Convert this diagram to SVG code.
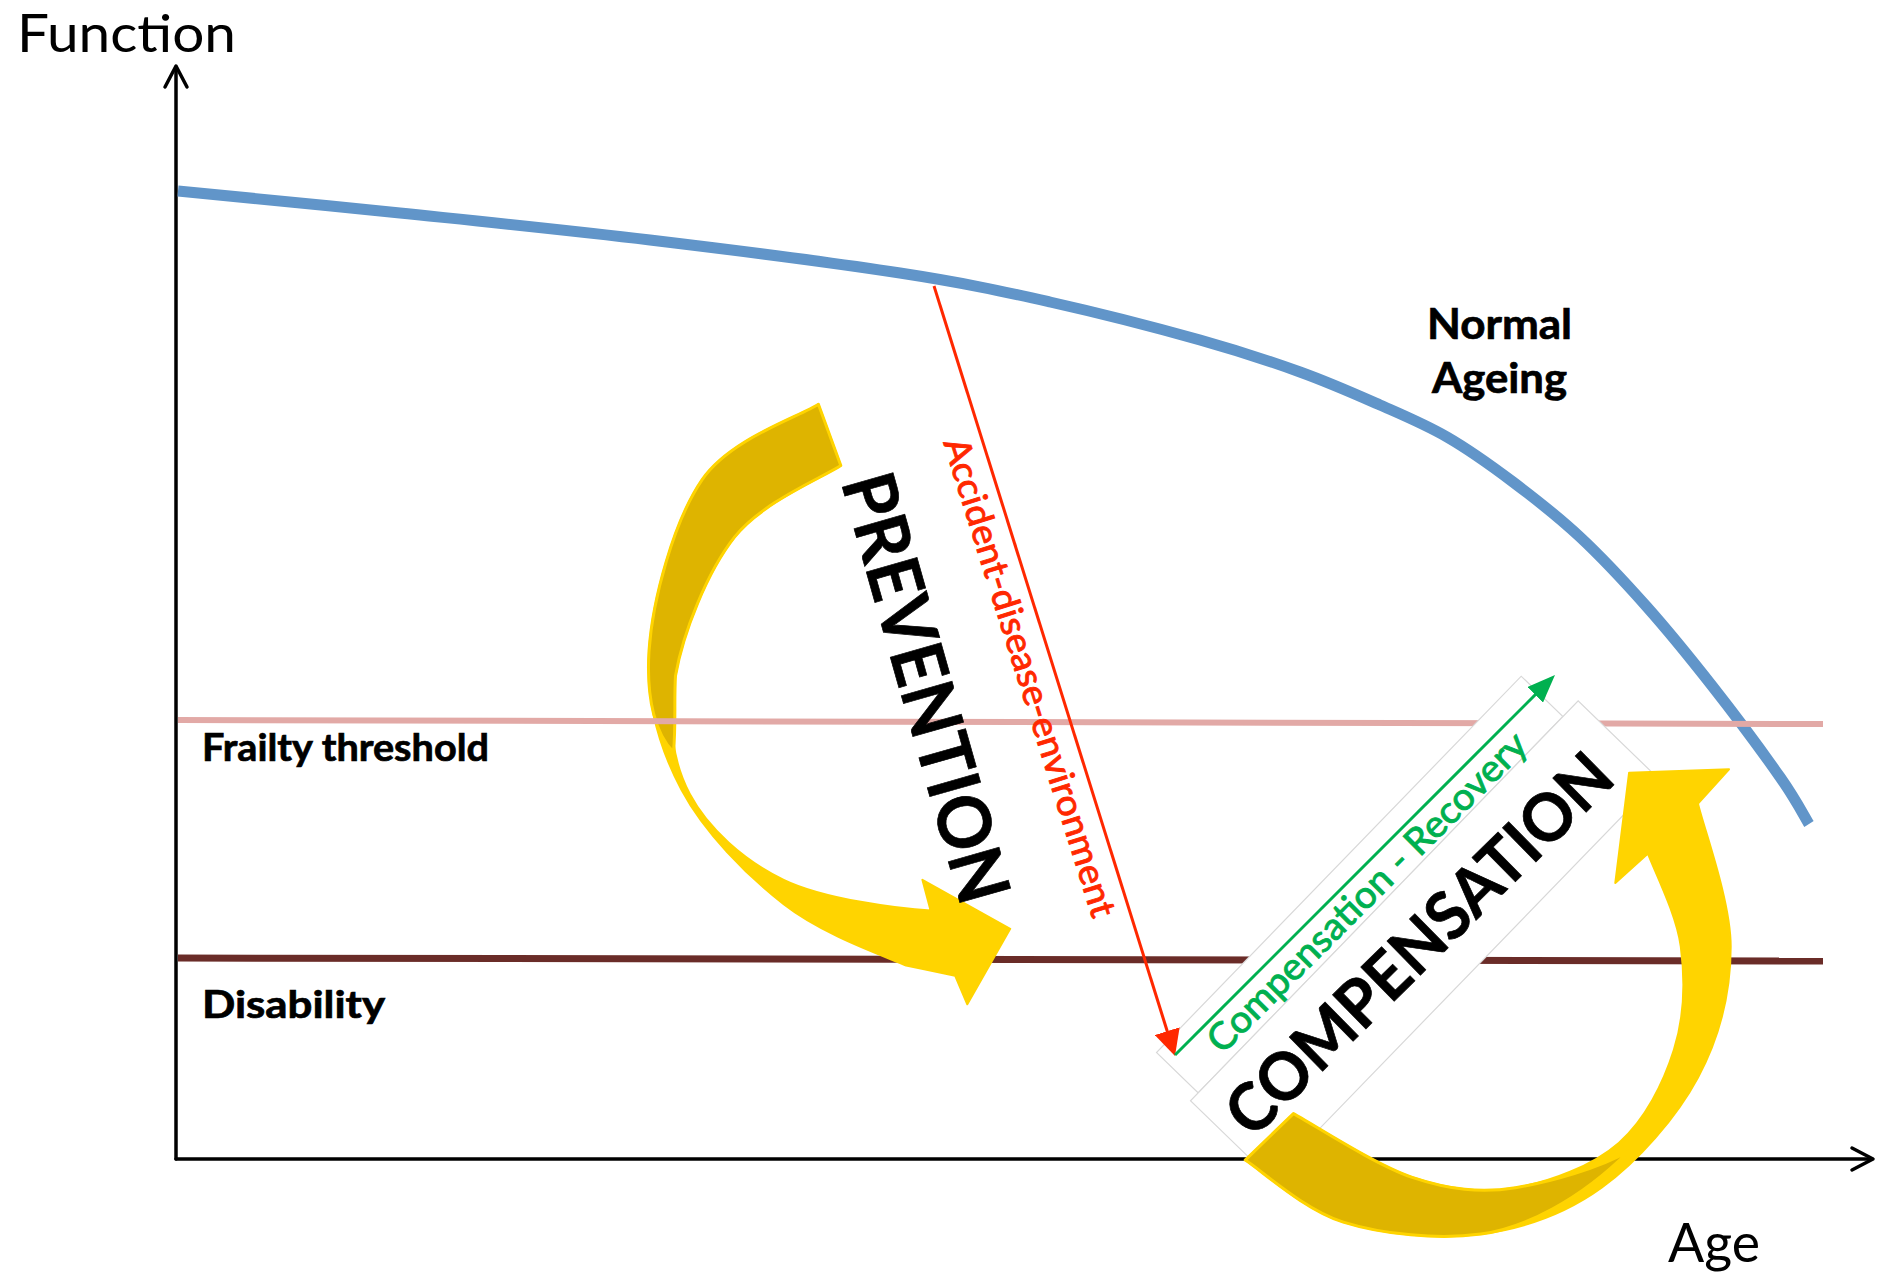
<svg xmlns="http://www.w3.org/2000/svg" width="1883" height="1278" viewBox="0 0 1883 1278">
  <style>
    .txt { font-family: Lato, "Open Sans", "Liberation Sans", sans-serif; }
    .bold { font-weight: 700; }
    .heavy { stroke: #000; stroke-width: 0.7; }
    .axis { stroke: #000; stroke-width: 3.5; fill: none; stroke-linecap: round; stroke-linejoin: round; }
    .panel { fill: #fff; stroke: #d8d8d8; stroke-width: 1.2; }
    .arrow-front { fill: #FFD400; stroke: #FFD400; stroke-width: 2; stroke-linejoin: round; }
    .arrow-back { fill: #DEB400; stroke: #FFD400; stroke-width: 3; stroke-linejoin: round; }
  </style>
  <defs>
    <marker id="head-red" markerUnits="userSpaceOnUse" viewBox="0 0 26 26" markerWidth="26" markerHeight="26" refX="14" refY="13" orient="auto">
      <path d="M0,0 L26,13 L0,26 Z" fill="#FF2800"/>
    </marker>
    <marker id="head-green" markerUnits="userSpaceOnUse" viewBox="0 0 28 22" markerWidth="28" markerHeight="22" refX="14" refY="11" orient="auto">
      <path d="M0,0 L28,11 L0,22 Z" fill="#00B050"/>
    </marker>
  </defs>

  <rect width="1883" height="1278" fill="#fff"/>

  <!-- disability level -->
  <g id="disability-line">
    <line x1="178" y1="958" x2="1823" y2="961" stroke="#6A2C28" stroke-width="7"/>
  </g>

  <!-- axes -->
  <g id="axes">
    <line class="axis" x1="176" y1="1159" x2="176" y2="67"/>
    <polyline class="axis" points="165,87 176,66 187,87"/>
    <line class="axis" x1="176" y1="1159" x2="1872" y2="1159"/>
    <polyline class="axis" points="1852,1148 1873,1159 1852,1170"/>
  </g>

  <!-- normal ageing curve -->
  <g id="normal-ageing-curve">
    <path d="M178,191 C215,194.7 321.3,204.8 400,213 C478.7,221.2 566.7,230 650,240 C733.3,250 833.3,262.7 900,273 C966.7,283.3 1000,290.8 1050,302 C1100,313.2 1158.3,328.3 1200,340 C1241.7,351.7 1270,361.2 1300,372 C1330,382.8 1355.5,394.2 1380,405 C1404.5,415.8 1424.8,424.2 1447,437 C1469.2,449.8 1490.8,465.3 1513,482 C1535.2,498.7 1557.7,516.2 1580,537 C1602.3,557.8 1624.8,582 1647,607 C1669.2,632 1690.8,658.7 1713,687 C1735.2,715.3 1764,754.2 1780,777 C1796,799.8 1804.2,816.2 1809,824" fill="none" stroke="#6195C9" stroke-width="11"/>
  </g>

  <!-- prevention loop arrow -->
  <g id="prevention-arrow">
    <path class="arrow-front" d="M818.4,404.3 C799.0,416.9 730.2,438.6 702,479.8 C673.8,521.0 652.4,599.5 649,651.2 C645.6,702.9 659.1,747.8 681.6,790 C704.1,832.2 746.3,875.0 783.7,904.3 C821.1,933.6 877.5,953.6 906.1,965.5 C922.4,969 946.9,974 955.1,975.7 L967.3,1004.3 L1010.2,928.8 L922.4,879.8 L930.6,910.4 C900,909 823.8,899.2 783.7,879.8 C743.6,860.4 707.8,828.0 689.8,794 C671.8,760.0 668.0,718.6 675.5,675.7 C683.0,632.8 707.1,571.9 734.7,536.9 C762.3,501.9 823.1,477.4 840.8,465.5 Z"/>
    <path class="arrow-back" d="M818.4,404.3 C799.0,416.9 730.2,438.6 702,479.8 C673.8,521.0 652.4,599.5 649,651.2 C646,700 656,735 673.5,752 C676,725 674,700 675.5,675.7 C683.0,632.8 707.1,571.9 734.7,536.9 C762.3,501.9 823.1,477.4 840.8,465.5 Z"/>
  </g>

  <!-- frailty threshold -->
  <g id="frailty-line">
    <line x1="178" y1="720" x2="1823" y2="724" stroke="#E2A9A6" stroke-width="6"/>
  </g>

  <!-- tilted panels behind the compensation labels -->
  <g id="compensation-panels" transform="rotate(-45.9)">
    <rect class="panel" x="49" y="1563" width="524" height="58"/>
    <rect class="panel" x="38" y="1621" width="557" height="112"/>
  </g>

  <!-- compensation loop arrow -->
  <g id="compensation-arrow">
    <path class="arrow-front" d="M1245.2,1160.1 C1261.6,1170.4 1304.0,1209.8 1343.3,1222.1 C1382.6,1234.4 1437.9,1239.8 1481,1234.1 C1524.1,1228.4 1565.4,1213.8 1601.6,1187.7 C1637.8,1161.6 1676.5,1117.7 1698,1077.5 C1719.5,1037.3 1730.7,992.2 1730.7,946.6 C1730.7,900.9 1703.5,827.5 1698,803.7 L1729,769.3 L1629.1,772.7 L1615.3,882.9 L1648,853.6 C1653.5,869.1 1676.5,913.9 1680.8,946.6 C1685.1,979.3 1684.2,1017.2 1673.9,1049.9 C1663.6,1082.6 1645.2,1119.9 1618.8,1142.9 C1592.4,1165.9 1549.9,1182.0 1515.5,1187.7 C1481.1,1193.4 1449.2,1189.7 1412.2,1177.3 C1375.2,1164.9 1313.2,1124.2 1293.4,1113.6 Z"/>
    <path class="arrow-back" d="M1245.2,1160.1 C1261.6,1170.4 1304.0,1209.8 1343.3,1222.1 C1382.6,1234.4 1437.9,1239.8 1481,1234.1 C1524.1,1228.4 1580,1200 1629,1151 C1600,1168 1549.9,1182.0 1515.5,1187.7 C1481.1,1193.4 1449.2,1189.7 1412.2,1177.3 C1375.2,1164.9 1313.2,1124.2 1293.4,1113.6 Z"/>
  </g>

  <!-- connectors -->
  <g id="connectors">
    <line id="accident-drop" x1="934" y1="286" x2="1171.4" y2="1044.5" stroke="#FF2800" stroke-width="3" marker-end="url(#head-red)"/>
    <line id="recovery-rise" x1="1175" y1="1055" x2="1545.1" y2="684.9" stroke="#00B050" stroke-width="3" marker-end="url(#head-green)"/>
  </g>

  <!-- labels -->
  <g id="label-function"><text class="txt" x="17" y="52" font-size="53" textLength="219" lengthAdjust="spacingAndGlyphs">Function</text></g>
  <g id="label-age"><text class="txt" x="1668" y="1262" font-size="54" textLength="92" lengthAdjust="spacingAndGlyphs">Age</text></g>
  <g id="label-normal-ageing">
    <text class="txt bold heavy" x="1499.5" y="339" font-size="42" text-anchor="middle" textLength="145" lengthAdjust="spacingAndGlyphs">Normal</text>
    <text class="txt bold heavy" x="1499.5" y="393" font-size="42" text-anchor="middle" textLength="135" lengthAdjust="spacingAndGlyphs">Ageing</text>
  </g>
  <g id="label-frailty"><text class="txt bold heavy" x="202" y="761" font-size="38" textLength="287" lengthAdjust="spacingAndGlyphs">Frailty threshold</text></g>
  <g id="label-disability"><text class="txt bold heavy" x="202" y="1018" font-size="38" textLength="183" lengthAdjust="spacingAndGlyphs">Disability</text></g>
  <g id="label-prevention"><text class="txt bold heavy" transform="translate(840.8,481.8) rotate(74.2)" font-size="73" textLength="443" lengthAdjust="spacingAndGlyphs">PREVENTION</text></g>
  <g id="label-accident"><text class="txt" transform="translate(934,286) rotate(72.6)" x="152" y="38" font-size="36" fill="#FF2800" stroke="#FF2800" stroke-width="0.9" textLength="500" lengthAdjust="spacingAndGlyphs">Accident-disease-environment</text></g>
  <g id="label-recovery"><text class="txt" transform="translate(1222.3,1055) rotate(-45)" font-size="37.5" fill="#00B050" stroke="#00B050" stroke-width="0.9" textLength="435" lengthAdjust="spacingAndGlyphs">Compensation - Recovery</text></g>
  <g id="label-compensation"><text class="txt bold heavy" transform="translate(1252.6,1140.1) rotate(-44.5)" font-size="66" textLength="512" lengthAdjust="spacingAndGlyphs">COMPENSATION</text></g>
</svg>
